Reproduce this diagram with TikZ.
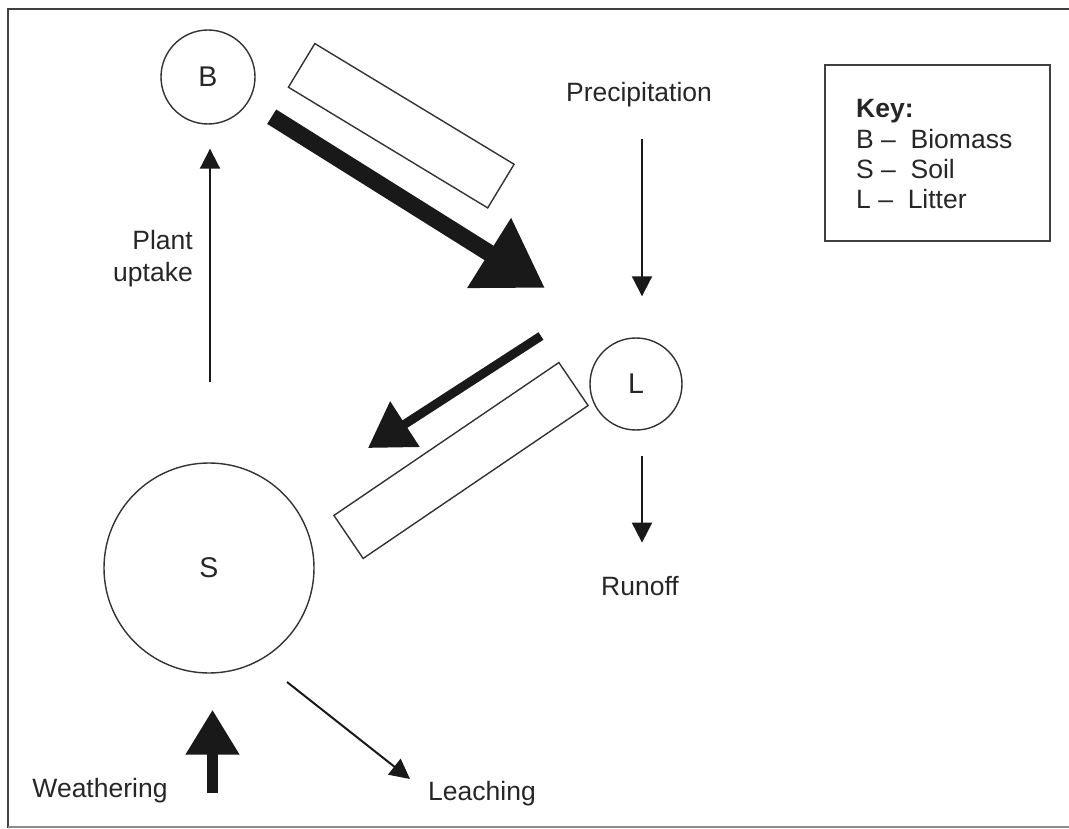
\documentclass[tikz,border=0pt]{standalone}
\usepackage{fontspec}
\setmainfont{Liberation Sans}
\usetikzlibrary{arrows.meta}
\begin{document}
\begin{tikzpicture}[x=1pt,y=-1pt,
  lbl/.style={font=\fontsize{26.5}{32}\selectfont, inner sep=0pt, text=black!85},
  pool/.style={draw=black!80, line width=1.4pt, circle, inner sep=0pt, font=\fontsize{28.5}{34}\selectfont, text=black!85},
  flowbox/.style={draw=black!80, line width=1.4pt, rectangle, inner sep=0pt},
  thinarrow/.style={draw=black!90, line width=2pt, -{Triangle[length=20pt,width=20pt]}},
]
\useasboundingbox (0,0) rectangle (1069,829);
% frame
\draw[black!75, line width=2pt] (1069,9) -- (8,9) -- (8,828);
\draw[black!45, line width=1.5pt] (8,827) -- (1069,827);

% pools
\node[pool, minimum size=94pt] (B) at (208,77) {B};
\node[pool, minimum size=92pt] (L) at (636,384) {L};
\node[pool, minimum size=210pt] (S) at (209,568) {S};

% open boxes
\node[flowbox, minimum width=233pt, minimum height=51pt, rotate=-31.2] (box1) at (401.25,125.75) {};
\node[flowbox, minimum width=272pt, minimum height=52pt, rotate=34.2] (box2) at (461,460.5) {};

% labels
\node[lbl, anchor=base] (Precip) at (639,102) {Precipitation};
\node[lbl, anchor=base] (Runoff) at (640,595) {Runoff};
\node[lbl, anchor=base] (Weath) at (100,797) {Weathering};
\node[lbl, anchor=base] (Leach) at (482,800) {Leaching};
\node[lbl, anchor=base east] (Plant) at (193,250) {Plant};
\node[lbl, anchor=base east] (Uptake) at (193,282) {uptake};

% key
\node[draw=black!75, line width=1.4pt, minimum width=225pt, minimum height=176pt, inner sep=0pt] (keybox) at (937.5,153) {};
\node[lbl, anchor=base west] (k0) at (856,118) {\textbf{Key:}};
\node[lbl, anchor=base west] (k1) at (856,149) {B~--~~Biomass};
\node[lbl, anchor=base west] (k2) at (856,179) {S~--~~Soil};
\node[lbl, anchor=base west] (k3) at (856,209) {L~--~~Litter};

% thin arrows
\draw[thinarrow, shorten <=80pt, shorten >=24pt] ([xshift=1pt]S.north) -- ([xshift=2pt]B.south);
\draw[thinarrow, shorten <=31pt, shorten >=41pt] ([xshift=3pt]Precip.south) -- ([xshift=6pt]L.north);
\draw[thinarrow, shorten <=25pt, shorten >=33pt] ([xshift=6pt]L.south) -- ([xshift=2pt]Runoff.north);
\coordinate (lc1) at (287,682);
\coordinate (lc2) at (410,779);
\draw[thinarrow] (lc1) -- (lc2);

% thick arrows
\coordinate (bl1) at (271.7,116.7);
\coordinate (bl2) at (545,288);
\draw[draw=black!90, line width=17pt, -{Triangle[length=66pt,width=78pt]}] (bl1) -- (bl2);
\coordinate (ls1) at (541,336);
\coordinate (ls2) at (368,448);
\draw[draw=black!90, line width=9pt, -{Triangle[length=44pt,width=52pt]}] (ls1) -- (ls2);
\coordinate (w1) at (212.5,793);
\draw[draw=black!90, line width=11pt, -{Triangle[length=45pt,width=51pt]}, shorten >=36pt] (w1) -- ([xshift=3.5pt]S.south);
\end{tikzpicture}
\end{document}
